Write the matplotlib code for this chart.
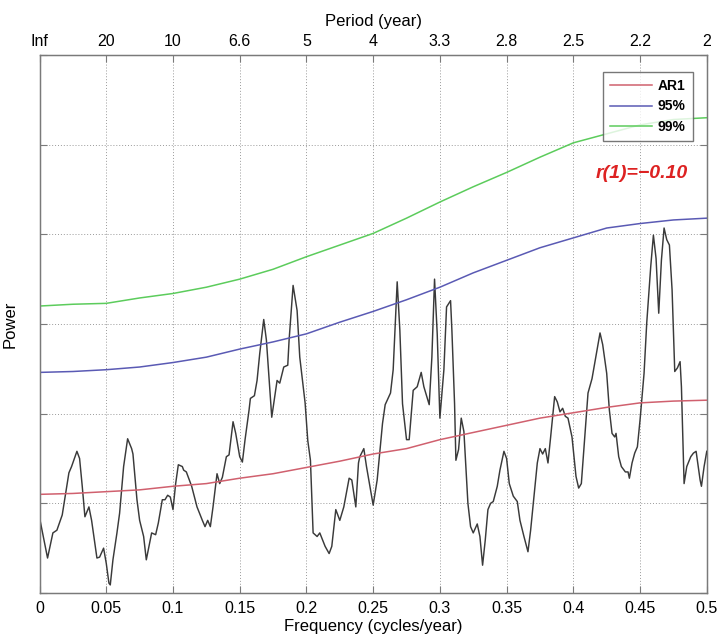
import matplotlib

matplotlib.use("Agg")
import matplotlib.pyplot as plt

# ---- data ------------------------------------------------------------------
# smooth reference curves, sampled every 0.025 cycles/year
curve_freq = [0.0, 0.025, 0.05, 0.075, 0.10, 0.125, 0.15, 0.175, 0.20,
              0.225, 0.25, 0.275, 0.30, 0.325, 0.35, 0.375, 0.40, 0.425,
              0.45, 0.475, 0.50]
ar1 = [1.10, 1.11, 1.13, 1.15, 1.19, 1.22, 1.28, 1.33, 1.40,
       1.47, 1.55, 1.61, 1.71, 1.79, 1.87, 1.95, 2.01, 2.07,
       2.12, 2.14, 2.15]
conf95 = [2.46, 2.47, 2.49, 2.52, 2.57, 2.63, 2.72, 2.80, 2.89,
          3.02, 3.14, 3.27, 3.41, 3.57, 3.71, 3.85, 3.96, 4.07,
          4.12, 4.16, 4.18]
conf99 = [3.20, 3.22, 3.23, 3.29, 3.34, 3.41, 3.50, 3.61, 3.75,
          3.88, 4.01, 4.18, 4.36, 4.53, 4.69, 4.86, 5.02, 5.12,
          5.22, 5.28, 5.30]

# observed spectrum (frequency, power)
spec_freq = [
    0.000, 0.006, 0.010, 0.013, 0.017, 0.022, 0.024, 0.028, 0.030, 0.032,
    0.034, 0.037, 0.039, 0.043, 0.045, 0.048, 0.050, 0.052, 0.053, 0.055,
    0.058, 0.060, 0.063, 0.066, 0.069, 0.070, 0.073, 0.075, 0.078, 0.080,
    0.082, 0.084, 0.087, 0.089, 0.092, 0.094, 0.096, 0.098, 0.100, 0.102,
    0.104, 0.107, 0.108, 0.110, 0.114, 0.118, 0.122, 0.124, 0.126, 0.128,
    0.130, 0.133, 0.135, 0.137, 0.140, 0.142, 0.145, 0.147, 0.150, 0.152,
    0.154, 0.157, 0.158, 0.161, 0.163, 0.165, 0.168, 0.170, 0.174, 0.178,
    0.180, 0.183, 0.186, 0.187, 0.190, 0.193, 0.195, 0.199, 0.201, 0.203,
    0.205, 0.208, 0.210, 0.214, 0.217, 0.219, 0.222, 0.223, 0.225, 0.228,
    0.232, 0.234, 0.237, 0.239, 0.240, 0.243, 0.245, 0.250, 0.253, 0.257,
    0.259, 0.263, 0.265, 0.268, 0.270, 0.272, 0.275, 0.277, 0.280, 0.283,
    0.286, 0.288, 0.292, 0.294, 0.296, 0.298, 0.300, 0.303, 0.305, 0.308,
    0.309, 0.311, 0.312, 0.314, 0.316, 0.318, 0.321, 0.323, 0.325, 0.328,
    0.330, 0.332, 0.334, 0.336, 0.338, 0.340, 0.343, 0.345, 0.348, 0.350,
    0.352, 0.355, 0.358, 0.360, 0.363, 0.366, 0.368, 0.370, 0.373, 0.375,
    0.377, 0.379, 0.381, 0.383, 0.386, 0.388, 0.390, 0.392, 0.394, 0.396,
    0.399, 0.402, 0.404, 0.406, 0.408, 0.411, 0.414, 0.416, 0.420, 0.422,
    0.425, 0.427, 0.429, 0.431, 0.432, 0.434, 0.436, 0.439, 0.441, 0.442,
    0.444, 0.446, 0.448, 0.450, 0.453, 0.455, 0.458, 0.460, 0.462, 0.464,
    0.466, 0.468, 0.470, 0.472, 0.474, 0.476, 0.478, 0.480, 0.481, 0.483,
    0.485, 0.488, 0.490, 0.492, 0.495, 0.496, 0.498, 0.500,
]
spec_power = [
    0.84, 0.39, 0.67, 0.70, 0.87, 1.34, 1.41, 1.58, 1.50, 1.19,
    0.85, 0.96, 0.81, 0.39, 0.40, 0.50, 0.33, 0.11, 0.09, 0.37,
    0.67, 0.89, 1.41, 1.72, 1.61, 1.55, 1.04, 0.81, 0.63, 0.37,
    0.52, 0.67, 0.65, 0.78, 1.04, 1.04, 1.09, 1.07, 0.93, 1.22,
    1.43, 1.41, 1.37, 1.35, 1.19, 0.96, 0.81, 0.74, 0.81, 0.74,
    0.96, 1.33, 1.22, 1.29, 1.52, 1.54, 1.91, 1.78, 1.52, 1.46,
    1.71, 2.04, 2.17, 2.20, 2.37, 2.67, 3.05, 2.82, 1.96, 2.37,
    2.34, 2.52, 2.54, 2.82, 3.43, 3.15, 2.63, 2.12, 1.70, 1.48,
    0.67, 0.63, 0.67, 0.52, 0.44, 0.52, 0.93, 0.89, 0.81, 0.96,
    1.28, 1.26, 0.96, 1.45, 1.52, 1.61, 1.41, 0.98, 1.26, 1.89,
    2.10, 2.23, 2.49, 3.47, 2.93, 2.11, 1.71, 1.71, 2.26, 2.30,
    2.46, 2.30, 2.10, 2.63, 3.50, 2.89, 1.95, 2.49, 3.19, 3.26,
    2.93, 2.11, 1.48, 1.60, 1.95, 1.80, 1.00, 0.74, 0.67, 0.77,
    0.63, 0.31, 0.59, 0.93, 1.00, 1.02, 1.19, 1.37, 1.58, 1.50,
    1.22, 1.08, 1.02, 0.81, 0.63, 0.46, 0.70, 1.00, 1.45, 1.61,
    1.55, 1.61, 1.45, 1.74, 2.19, 2.13, 2.02, 2.06, 1.97, 1.95,
    1.74, 1.30, 1.17, 1.22, 1.63, 2.23, 2.39, 2.56, 2.90, 2.77,
    2.45, 2.04, 1.78, 1.74, 1.78, 1.52, 1.41, 1.35, 1.35, 1.28,
    1.45, 1.56, 1.63, 1.93, 2.45, 3.01, 3.64, 3.99, 3.73, 3.12,
    3.71, 4.07, 3.94, 3.88, 3.38, 2.47, 2.51, 2.58, 2.30, 1.22,
    1.41, 1.52, 1.56, 1.58, 1.26, 1.19, 1.41, 1.58,
]

freq_ticks = [0.0, 0.05, 0.1, 0.15, 0.2, 0.25, 0.3, 0.35, 0.4, 0.45, 0.5]
freq_labels = ["0", "0.05", "0.1", "0.15", "0.2", "0.25", "0.3", "0.35",
               "0.4", "0.45", "0.5"]
period_labels = ["Inf", "20", "10", "6.6", "5", "4", "3.3", "2.8", "2.5",
                 "2.2", "2"]

C_AR1 = "#d0606e"
C_95 = "#5a5ab4"
C_99 = "#5ccc5c"
C_SPEC = "#3a3a3a"
C_FRAME = "#7a7a7a"

plt.rcParams["font.family"] = ["Liberation Sans", "DejaVu Sans"]

fig = plt.figure(figsize=(7.19, 6.39), dpi=100)
ax = fig.add_axes([0.055, 0.072, 0.928, 0.842])

ax.plot(spec_freq, spec_power, color=C_SPEC, lw=1.05, zorder=3)
ax.plot(curve_freq, ar1, color=C_AR1, lw=1.1, label="AR1", zorder=4)
ax.plot(curve_freq, conf95, color=C_95, lw=1.1, label="95%", zorder=4)
ax.plot(curve_freq, conf99, color=C_99, lw=1.1, label="99%", zorder=4)

ax.set_xlim(0, 0.5)
ax.set_ylim(0, 6)
ax.set_xticks(freq_ticks)
ax.set_xticklabels(freq_labels)
ax.set_yticks(range(0, 7))
ax.set_yticklabels([])
ax.grid(True, color="#9a9a9a", linestyle=(0, (1, 2)), lw=0.7)
ax.tick_params(direction="in", length=5, color=C_FRAME, labelsize=11.5,
               right=True, pad=6)
for sp in ax.spines.values():
    sp.set_color(C_FRAME)
    sp.set_linewidth(1.0)

ax.set_xlabel("Frequency (cycles/year)", fontsize=12, labelpad=2)
ax.set_ylabel("Power", fontsize=12, labelpad=10)

top = ax.twiny()
top.set_xlim(ax.get_xlim())
top.set_xticks(freq_ticks)
top.set_xticklabels(period_labels)
top.tick_params(direction="in", length=5, color=C_FRAME, labelsize=11.5,
                pad=4)
for sp in top.spines.values():
    sp.set_color(C_FRAME)
top.set_xlabel("Period (year)", fontsize=12, labelpad=6)

leg = ax.legend(loc="upper right", bbox_to_anchor=(0.99, 0.982),
                frameon=True, fancybox=False, handlelength=3.0,
                borderpad=0.55, labelspacing=0.45, handletextpad=0.4,
                prop={"weight": "bold", "size": 10})
leg.get_frame().set_edgecolor("#555555")
leg.get_frame().set_linewidth(1.0)

ax.text(0.451, 4.68, "r(1)=\u22120.10", color="#dd2222", fontsize=14,
        weight="bold", style="italic", ha="center", va="center", zorder=5)

fig.savefig("out.png", dpi=100)
